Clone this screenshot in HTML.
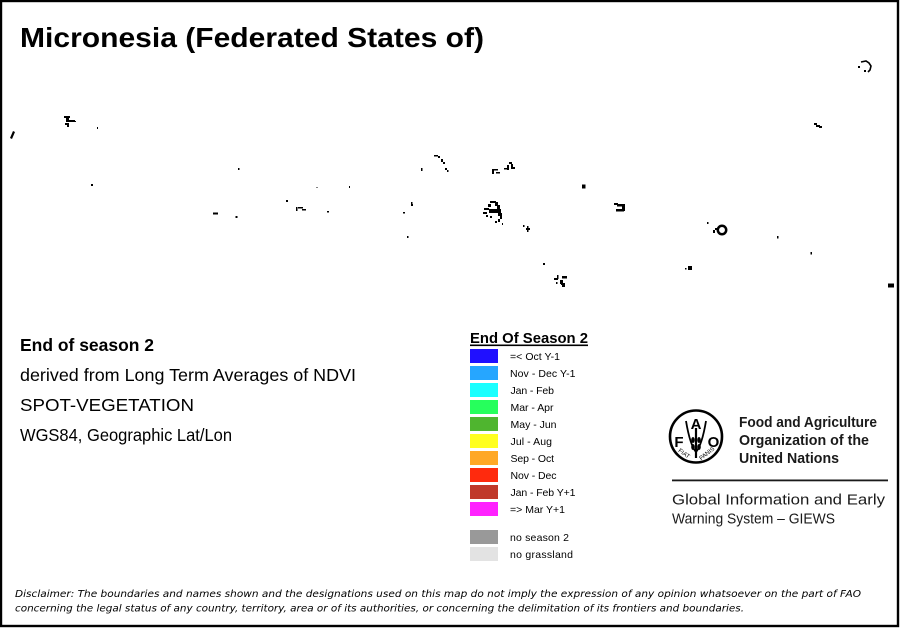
<!DOCTYPE html>
<html>
<head>
<meta charset="utf-8">
<style>
html,body{margin:0;padding:0;background:#fff;}
svg{display:block;}
</style>
</head>
<body>
<svg width="900" height="628" viewBox="0 0 900 628" xmlns="http://www.w3.org/2000/svg">
<rect x="0" y="0" width="900" height="628" fill="#fff"/>
<rect x="1" y="1" width="897" height="625" fill="none" stroke="#000" stroke-width="2.4"/>

<!-- Title -->
<text x="20" y="47" font-family="Liberation Sans, Arial, sans-serif" font-weight="bold" font-size="28" textLength="464" lengthAdjust="spacingAndGlyphs" fill="#000">Micronesia (Federated States of)</text>

<!-- Islands -->
<g fill="#000">
<polygon points="13,131 15,132 12,139 10,138"/>
<rect x="64" y="116" width="6" height="2"/><rect x="66" y="118" width="3" height="4"/><rect x="69" y="120" width="6" height="2"/><rect x="65" y="123" width="4" height="2"/><rect x="67" y="125" width="2" height="2"/><rect x="73" y="121" width="3" height="1"/>
<rect x="97" y="127" width="1" height="2"/>
<rect x="91" y="184" width="2" height="2"/>
<rect x="238" y="168" width="1.5" height="2"/>
<rect x="286" y="200" width="2" height="2"/>
<rect x="296" y="207" width="1.5" height="4"/><rect x="298" y="207" width="5" height="1.5"/><rect x="302" y="209" width="4" height="1.5"/>
<rect x="327" y="211" width="2" height="1.5"/>
<rect x="213" y="212.5" width="5" height="2"/>
<rect x="235.5" y="216" width="2" height="2"/>
<rect x="316.5" y="187" width="1" height="1"/>
<rect x="349" y="186" width="1" height="2"/>
<!-- central -->
<rect x="434" y="155" width="4" height="1.5"/><rect x="438" y="156" width="2" height="2"/><rect x="441" y="159" width="2" height="3"/><rect x="443" y="162" width="2" height="2"/><rect x="445" y="168" width="2" height="2"/><rect x="447" y="170" width="1.5" height="2"/>
<rect x="421" y="168" width="1.5" height="3"/>
<rect x="492" y="169" width="2" height="5"/><rect x="494" y="169" width="4" height="1.5"/><rect x="496" y="172" width="4" height="1.5"/>
<rect x="504" y="168" width="3" height="1.5"/><rect x="507" y="165" width="2" height="5"/><rect x="509" y="162" width="3" height="2"/><rect x="511" y="164" width="2" height="4"/><rect x="511" y="167" width="4" height="2"/>
<rect x="582" y="184.5" width="3.5" height="4"/>
<rect x="411" y="202" width="1.5" height="4"/><rect x="412" y="204" width="1" height="2"/>
<rect x="403" y="212" width="2" height="1.5"/>
<rect x="407" y="236" width="1.5" height="2"/>
<rect x="490" y="201" width="6" height="2"/><rect x="495" y="202" width="3" height="4"/><rect x="488" y="204" width="3" height="3"/><rect x="497" y="205" width="3" height="4"/><rect x="484" y="208" width="5" height="2"/><rect x="489" y="209" width="12" height="4"/><rect x="483" y="212" width="4" height="2"/><rect x="498" y="213" width="4" height="3"/><rect x="486" y="215" width="2" height="2"/><rect x="490" y="216" width="2" height="2"/><rect x="500" y="216" width="2" height="3"/><rect x="498" y="219" width="2" height="3"/><rect x="495" y="221" width="2" height="2"/><rect x="502" y="223" width="1" height="2"/>
<rect x="523" y="225" width="1.5" height="2"/><rect x="526" y="228" width="4" height="2"/><rect x="527" y="226" width="1.5" height="6"/>
<rect x="543" y="263" width="2" height="2"/>
<rect x="554" y="278" width="4" height="2"/><rect x="557" y="275" width="1.5" height="4"/><rect x="562" y="276" width="5" height="2.5"/><rect x="560" y="280" width="3" height="4"/><rect x="561" y="283" width="4" height="2"/><rect x="562" y="285" width="3" height="2"/><rect x="556" y="282" width="1.5" height="2"/>
<!-- east -->
<path d="M861,62 L866,61 L869,63 L871,66 L870,70 L868,72" fill="none" stroke="#000" stroke-width="1.6"/><rect x="858" y="66" width="2" height="2"/><rect x="864" y="70" width="2" height="2"/>
<rect x="814" y="123" width="3" height="2"/><rect x="816" y="125" width="4" height="2"/><rect x="819" y="126" width="3" height="2"/>
<rect x="614" y="203" width="4" height="2"/><rect x="617" y="204" width="8" height="2.5"/><rect x="622" y="206" width="3" height="5"/><rect x="616" y="209" width="8" height="2.5"/>
<rect x="707" y="222" width="1.5" height="2"/><rect x="713" y="230" width="2" height="3"/><rect x="715" y="228" width="2" height="2"/>
<circle cx="722" cy="230" r="4.2" fill="none" stroke="#000" stroke-width="2.5"/>
<rect x="777" y="236" width="1.5" height="2.5"/>
<rect x="810.5" y="252" width="1.5" height="2.5"/>
<rect x="685" y="268" width="1.5" height="1.5"/><rect x="688" y="266" width="4" height="4"/>
<rect x="888" y="283.5" width="6" height="4"/>
</g>

<!-- Left info -->
<g font-family="Liberation Sans, Arial, sans-serif" font-size="17.5" fill="#000">
<text x="20" y="351" font-weight="bold" textLength="134" lengthAdjust="spacingAndGlyphs">End of season 2</text>
<text x="20" y="381" textLength="336" lengthAdjust="spacingAndGlyphs">derived from Long Term Averages of NDVI</text>
<text x="20" y="411" textLength="174" lengthAdjust="spacingAndGlyphs">SPOT-VEGETATION</text>
<text x="20" y="441" textLength="212" lengthAdjust="spacingAndGlyphs">WGS84, Geographic Lat/Lon</text>
</g>

<!-- Legend -->
<g font-family="Liberation Sans, Arial, sans-serif" fill="#000">
<text x="470" y="343" font-size="14.5" font-weight="bold" textLength="118" lengthAdjust="spacingAndGlyphs">End Of Season 2</text>
<rect x="470" y="344.5" width="118" height="1.6"/>
</g>
<g>
<rect x="470" y="349" width="28" height="14" fill="#2010ff"/>
<rect x="470" y="366" width="28" height="14" fill="#26a6ff"/>
<rect x="470" y="383" width="28" height="14" fill="#1affff"/>
<rect x="470" y="400" width="28" height="14" fill="#26ff5c"/>
<rect x="470" y="417" width="28" height="14" fill="#4fb52f"/>
<rect x="470" y="434" width="28" height="14" fill="#ffff1f"/>
<rect x="470" y="451" width="28" height="14" fill="#ffa826"/>
<rect x="470" y="468" width="28" height="14" fill="#ff2a0d"/>
<rect x="470" y="485" width="28" height="14" fill="#c0392a"/>
<rect x="470" y="502" width="28" height="14" fill="#ff22ff"/>
<rect x="470" y="530" width="28" height="14" fill="#999999"/>
<rect x="470" y="547" width="28" height="14" fill="#e3e3e3"/>
</g>
<g font-family="Liberation Sans, Arial, sans-serif" font-size="10.5" fill="#000">
<text x="510" y="360" textLength="50" lengthAdjust="spacing">=&lt; Oct Y-1</text>
<text x="510" y="377" textLength="65.5" lengthAdjust="spacing">Nov - Dec Y-1</text>
<text x="510.5" y="394" textLength="43.5" lengthAdjust="spacing">Jan - Feb</text>
<text x="510.5" y="411" textLength="43" lengthAdjust="spacing">Mar - Apr</text>
<text x="510.5" y="428" textLength="46" lengthAdjust="spacing">May - Jun</text>
<text x="510.5" y="445" textLength="41.5" lengthAdjust="spacing">Jul - Aug</text>
<text x="510.5" y="462" textLength="43.5" lengthAdjust="spacing">Sep - Oct</text>
<text x="510.5" y="479" textLength="46" lengthAdjust="spacing">Nov - Dec</text>
<text x="510.5" y="496" textLength="65" lengthAdjust="spacing">Jan - Feb Y+1</text>
<text x="510" y="513" textLength="55" lengthAdjust="spacing">=&gt; Mar Y+1</text>
<text x="510" y="541" textLength="59" lengthAdjust="spacing">no season 2</text>
<text x="510" y="558" textLength="63" lengthAdjust="spacing">no grassland</text>
</g>

<!-- FAO logo -->
<g>
<circle cx="696" cy="436.5" r="26" fill="none" stroke="#000" stroke-width="2.6"/>
<text x="679" y="447" font-family="Liberation Sans, Arial, sans-serif" font-weight="bold" font-size="15" text-anchor="middle" fill="#000">F</text>
<text x="696" y="429" font-family="Liberation Sans, Arial, sans-serif" font-weight="bold" font-size="15" text-anchor="middle" fill="#000">A</text>
<text x="713.5" y="447" font-family="Liberation Sans, Arial, sans-serif" font-weight="bold" font-size="15" text-anchor="middle" fill="#000">O</text>
<path d="M696,428 L696,458" stroke="#000" stroke-width="2.2"/>
<path d="M686,421 Q690,445 696,452 Q702,445 706,421" fill="none" stroke="#000" stroke-width="1.8"/>
<ellipse cx="693" cy="440" rx="1.8" ry="3" fill="#000"/>
<ellipse cx="699" cy="440" rx="1.8" ry="3" fill="#000"/>
<ellipse cx="693" cy="447" rx="1.8" ry="3" fill="#000"/>
<ellipse cx="699" cy="447" rx="1.8" ry="3" fill="#000"/>
<text x="683" y="455" font-family="Liberation Sans, Arial, sans-serif" font-size="6" fill="#000" transform="rotate(35 683 455)" text-anchor="middle">FIAT</text>
<text x="708" y="455" font-family="Liberation Sans, Arial, sans-serif" font-size="6" fill="#000" transform="rotate(-38 708 455)" text-anchor="middle">PANIS</text>
</g>
<g font-family="Liberation Sans, Arial, sans-serif" fill="#1a1a1a">
<text x="739" y="427" font-size="15" font-weight="bold" textLength="138" lengthAdjust="spacingAndGlyphs">Food and Agriculture</text>
<text x="739" y="445" font-size="15" font-weight="bold" textLength="130" lengthAdjust="spacingAndGlyphs">Organization of the</text>
<text x="739" y="463" font-size="15" font-weight="bold" textLength="100" lengthAdjust="spacingAndGlyphs">United Nations</text>
<rect x="672" y="479.5" width="216" height="1.8" fill="#1a1a1a"/>
<text x="672" y="504.5" font-size="15" textLength="213" lengthAdjust="spacingAndGlyphs">Global Information and Early</text>
<text x="672" y="523.5" font-size="15" textLength="163" lengthAdjust="spacingAndGlyphs">Warning System – GIEWS</text>
</g>

<!-- Disclaimer -->
<g font-family="DejaVu Sans, Liberation Sans, sans-serif" font-style="italic" font-size="10" fill="#000">
<text x="15" y="597" textLength="846" lengthAdjust="spacingAndGlyphs">Disclaimer: The boundaries and names shown and the designations used on this map do not imply the expression of any opinion whatsoever on the part of FAO</text>
<text x="15" y="611.5" textLength="729" lengthAdjust="spacingAndGlyphs">concerning the legal status of any country, territory, area or of its authorities, or concerning the delimitation of its frontiers and boundaries.</text>
</g>
</svg>
</body>
</html>
